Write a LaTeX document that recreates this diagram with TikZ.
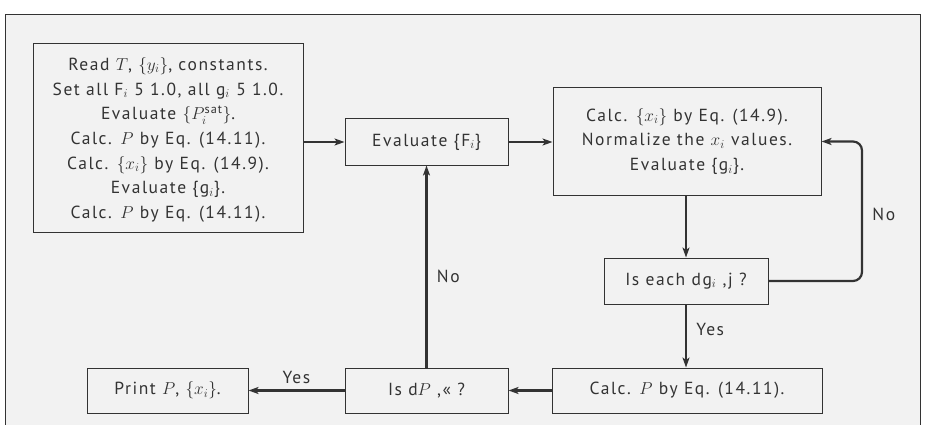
\documentclass[tikz,border=0pt]{standalone}
\usepackage{amsmath}
\usepackage{fontspec}
\setmainfont{PT Sans}[LetterSpace=9]
\usetikzlibrary{positioning,calc,arrows.meta}
\definecolor{ink}{HTML}{333333}
\definecolor{paper}{HTML}{F2F2F2}

\begin{document}
\begin{tikzpicture}[x=1pt, y=-1pt, >={Stealth[length=10pt,width=7pt,inset=2.5pt]},
  every node/.style={font=\fontsize{17.5}{24.7}\selectfont, text=ink},
  block/.style={draw=ink, line width=1pt, fill=paper, align=center, inner sep=0pt},
  flow/.style={->, draw=ink, line width=2.2pt}]
  \useasboundingbox (0,0) rectangle (928,425);
  \fill[paper] (5,15) rectangle (920,425);
  \draw[ink, line width=1pt] (5,425) -- (5,15) -- (920,15) -- (920,425);

  % boxes
  \node[block, minimum width=270, minimum height=188, text depth=0pt] (init) at (168,138)
    {\rule{0pt}{10pt}Read $T$, $\{y_i\}$, constants.\\
     Set all F$_i$ 5 1.0, all g$_i$ 5 1.0.\\
     Evaluate $\{P_i^{\text{sat}}\}$.\\
     Calc. $P$ by Eq. (14.11).\\
     Calc. $\{x_i\}$ by Eq. (14.9).\\
     Evaluate \{g$_i$\}.\\
     Calc. $P$ by Eq. (14.11).};
  \node[block, minimum width=163, minimum height=46] (evalF) at (426.5,142) {Evaluate \{F$_i$\}};
  \node[block, minimum width=268, minimum height=107] (calcx) at (687,141.5)
    {Calc. $\{x_i\}$ by Eq. (14.9).\\
     Normalize the $x_i$ values.\\
     Evaluate \{g$_i$\}.};
  \node[block, minimum width=164, minimum height=46] (check) at (686,281) {Is each dg$_i$ ,j ?};
  \node[block, minimum width=270, minimum height=45] (calcP) at (687,390.5) {Calc. $P$ by Eq. (14.11).};
  \node[block, minimum width=163, minimum height=45] (isdP) at (426.5,390.5) {Is d$P$ ,« ?};
  \node[block, minimum width=161, minimum height=45] (print) at (167.5,390.5) {Print $P$, $\{x_i\}$.};
  \coordinate (loopR) at (862,0);

  % connectors
  \draw[flow] (init.east |- evalF.west) -- (evalF.west);
  \draw[flow] (evalF.east) -- (calcx.west |- evalF.east);
  \draw[flow] (calcx.south -| check.north) -- (check.north);
  \draw[flow] (check.south) -- node[right, xshift=6pt, pos=0.4] {Yes} (check.south |- calcP.north);
  \draw[flow] (calcP.west) -- (isdP.east);
  \draw[flow] (isdP.west) -- node[above, yshift=2pt] {Yes} (print.east);
  \draw[flow] (isdP.north) -- node[right, xshift=6pt, pos=0.45] {No} (evalF.south);
  \draw[flow, rounded corners=9pt] (check.east) -- (check.east -| loopR)
    -- node[right, xshift=6pt, pos=0.48] {No} (calcx.east -| loopR) -- (calcx.east);
\end{tikzpicture}
\end{document}
